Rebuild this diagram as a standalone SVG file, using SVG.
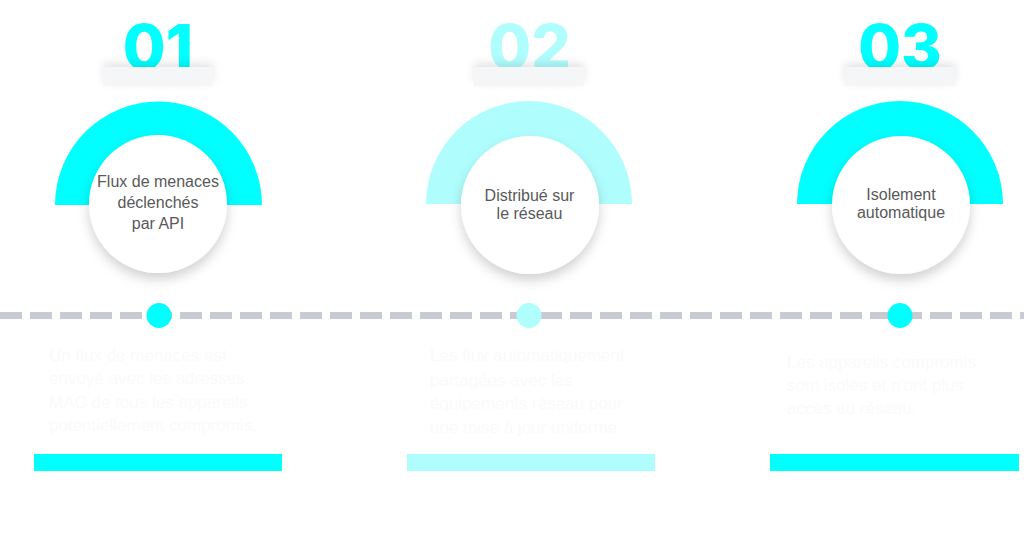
<svg xmlns="http://www.w3.org/2000/svg" width="1024" height="557" viewBox="0 0 1024 557">
<defs>
<style>
.num{font-family:Inter,"Liberation Sans",sans-serif;font-weight:800;font-size:62px;text-anchor:middle}
.lbl{font-family:"Liberation Sans",Arial,sans-serif;font-size:16px;fill:#595959;text-anchor:middle}
.desc{font-family:"Liberation Sans",Arial,sans-serif;font-size:17px;fill:#fafafa}
.box{fill:#f5f6f8}
.inner{fill:#ffffff}
.c1{fill:#00ffff}
.c2{fill:#b0fdfd}
</style>
<filter id="sh" x="-30%" y="-30%" width="160%" height="170%">
<feDropShadow dx="0" dy="6" stdDeviation="6" flood-color="#000" flood-opacity="0.18"/>
</filter>
<filter id="bsh" x="-20%" y="-100%" width="140%" height="300%">
<feDropShadow dx="0" dy="-4" stdDeviation="4" flood-color="#000" flood-opacity="0.1"/>
</filter>
</defs>
<rect width="1024" height="557" fill="#ffffff"/>
<g id="connectors">
<line x1="0" y1="315.5" x2="1024" y2="315.5" stroke="#c8cad4" stroke-width="7" stroke-dasharray="22 8"/>
</g>
<g id="step1">
<text class="num c1" x="158" y="69">01</text>
<rect class="box" x="103" y="67" width="110" height="19" filter="url(#bsh)"/>
<path class="c1" d="M55,205 A103.5,103.5 0 0 1 262,205 Z"/>
<circle class="inner" cx="158" cy="204" r="69" filter="url(#sh)"/>
<text class="lbl" x="158" y="187">Flux de menaces</text>
<text class="lbl" x="158" y="208">déclenchés</text>
<text class="lbl" x="158" y="229">par API</text>
<circle class="c1" cx="159" cy="315.5" r="12.5"/>
<text class="desc" x="49" y="361">Un flux de menaces est</text>
<text class="desc" x="49" y="384">envoyé avec les adresses</text>
<text class="desc" x="49" y="408">MAC de tous les appareils</text>
<text class="desc" x="49" y="431">potentiellement compromis.</text>
<rect class="c1" x="34" y="454" width="248" height="17"/>
</g>
<g id="step2">
<text class="num c2" x="529.5" y="69">02</text>
<rect class="box" x="474" y="67" width="110" height="19" filter="url(#bsh)"/>
<path class="c2" d="M426,204 A103,103 0 0 1 632,204 Z"/>
<circle class="inner" cx="530" cy="205" r="69" filter="url(#sh)"/>
<text class="lbl" x="529.5" y="201">Distribué sur</text>
<text class="lbl" x="529.5" y="219">le réseau</text>
<circle class="c2" cx="529" cy="315.5" r="12.5"/>
<text class="desc" x="430" y="361">Les flux automatiquement</text>
<text class="desc" x="430" y="386">partagées avec les</text>
<text class="desc" x="430" y="409">équipements réseau pour</text>
<text class="desc" x="430" y="433">une mise à jour uniforme</text>
<rect class="c2" x="407" y="454" width="248" height="17"/>
</g>
<g id="step3">
<text class="num c1" x="900" y="69">03</text>
<rect class="box" x="845" y="67" width="110" height="19" filter="url(#bsh)"/>
<path class="c1" d="M797,204 A103,103 0 0 1 1003,204 Z"/>
<circle class="inner" cx="901" cy="205" r="69" filter="url(#sh)"/>
<text class="lbl" x="901" y="200">Isolement</text>
<text class="lbl" x="901" y="218">automatique</text>
<circle class="c1" cx="900" cy="315.5" r="12.5"/>
<text class="desc" x="787" y="368">Les appareils compromis</text>
<text class="desc" x="787" y="391">sont isolés et n'ont plus</text>
<text class="desc" x="787" y="414">accès au réseau.</text>
<rect class="c1" x="770" y="454" width="249" height="17"/>
</g>
</svg>
